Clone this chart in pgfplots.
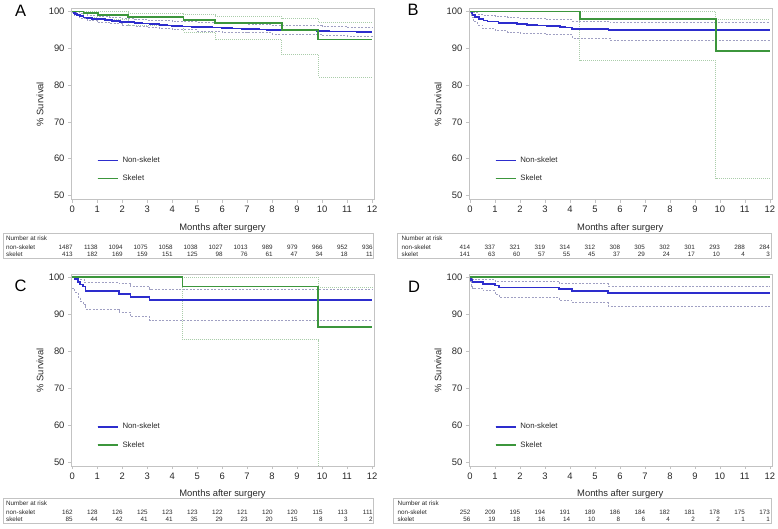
\documentclass[border=0pt]{standalone}
\usepackage{pgfplots}
\usepackage{pgfplotstable}
\pgfplotsset{compat=1.18}
\usepackage{fontspec}
\setmainfont{Liberation Sans}

\definecolor{kmblue}{RGB}{45,45,205}
\definecolor{kmgreen}{RGB}{60,150,60}
\definecolor{ciblue}{RGB}{160,160,195}
\definecolor{cigreen}{RGB}{170,205,170}
\definecolor{framec}{RGB}{195,195,195}
\definecolor{txt}{RGB}{40,40,40}

\newcommand{\tickfont}{\fontsize{9.4}{11}\selectfont}
\newcommand{\legfont}{\fontsize{7.8}{9}\selectfont}
\newcommand{\riskfont}{\fontsize{6.3}{7}\selectfont}

\pgfplotstableread{
m non sk
0 1487 413
1 1138 182
2 1094 169
3 1075 159
4 1058 151
5 1038 125
6 1027 98
7 1013 76
8 989 61
9 979 47
10 966 34
11 952 18
12 936 11
}\riskA
\pgfplotstableread{
m non sk
0 414 141
1 337 63
2 321 60
3 319 57
4 314 55
5 312 45
6 308 37
7 305 29
8 302 24
9 301 17
10 293 10
11 288 4
12 284 3
}\riskB
\pgfplotstableread{
m non sk
0 162 85
1 128 44
2 126 42
3 125 41
4 123 41
5 123 35
6 122 29
7 121 23
8 120 20
9 120 15
10 115 8
11 113 3
12 111 2
}\riskC
\pgfplotstableread{
m non sk
0 252 56
1 209 19
2 195 18
3 194 16
4 191 14
5 189 10
6 186 8
7 184 6
8 182 4
9 181 2
10 178 2
11 175 1
12 173 1
}\riskD

\pgfplotsset{
  km/.style={
    scale only axis, width=303pt, xmin=-0.05, xmax=12.08, ymin=48.9, ymax=100.75,
    xtick={0,...,12}, ytick={50,60,...,100},
    axis line style={draw=framec}, tick style={draw=framec, thin},
    tick align=outside, major tick length=3pt,
    xtick pos=left, ytick pos=left,
    /pgf/number format/assume math mode=true,
    ticklabel style={font=\tickfont, text=txt},
    xlabel={Months after surgery}, ylabel={\% Survival},
    label style={font=\tickfont, text=txt},
    xlabel style={at={(axis description cs:0.5,-0.148)}, anchor=center},
    ylabel style={at={(axis description cs:-0.102,0.5)}, anchor=center},
    legend style={at={(axis description cs:0.075,0.245)}, anchor=north west, draw=none, fill=none,
      font=\legfont, text=txt, row sep=7pt, column sep=2pt},
    legend cell align=left,
    legend image code/.code={\draw[#1] (0pt,0pt) -- (12pt,0pt); \path (0pt,0pt) -- (20pt,0pt);},
  },
  blueci/.style={const plot, ciblue, dash pattern=on 2pt off 1.5pt, line width=0.8pt, forget plot},
  greenci/.style={const plot, cigreen, dash pattern=on 1pt off 1pt, line width=0.9pt, forget plot},
  bluekm/.style={const plot, kmblue, line width=1.6pt},
  greenkm/.style={const plot, kmgreen, line width=1.6pt},
  risk/.style={scale only axis, height=25.5pt, ymin=0, ymax=1, xtick=\empty, ytick=\empty,
    axis line style={draw=framec}, clip=false},
  risknum/.style={only marks, mark=none, nodes near coords, point meta=explicit symbolic,
    every node near coord/.append style={anchor=east, inner sep=0pt, xshift=0.5pt, font=\riskfont, text=txt}},
}

\begin{document}
\begin{tikzpicture}
\useasboundingbox (0pt,0pt) rectangle (778pt,-529pt);

% ---------------- Panel A ----------------
\node[font=\fontsize{16.5}{18}\selectfont] at (20.7pt,-10.5pt) {A};
\begin{axis}[km, height=190.8pt, at={(71pt,-199.5pt)}, anchor=south west]
\addplot[blueci] coordinates {(0,100) (0.1,99.8) (0.3,99.4) (0.6,99.0) (1.0,98.7) (1.5,98.4) (2.0,98.1) (2.5,97.9) (3.0,97.7) (3.5,97.5) (4.0,97.2) (5.0,97.0) (6.0,96.8) (7.0,96.5) (8.0,96.2) (9.0,96.1) (10.0,96.0) (11.0,95.8) (12,95.7)};
\addplot[blueci] coordinates {(0,99.7) (0.1,98.8) (0.3,98.2) (0.6,97.5) (1.0,97.1) (1.5,96.7) (2.0,96.2) (2.5,96.0) (3.0,95.6) (3.5,95.3) (4.0,95.0) (5.0,94.7) (6.0,94.4) (7.0,94.2) (8.0,93.9) (9.0,93.7) (10.0,93.5) (11.0,93.3) (12,93.2)};
\addplot[greenci] coordinates {(0,100) (1.03,99.9) (2.23,99.5) (4.45,99.1) (5.72,98.7) (8.39,98.1) (9.85,96.9) (12,96.9)};
\addplot[greenci] coordinates {(0,100) (0.45,98.3) (1.03,97.7) (2.23,96.2) (4.45,94.4) (5.72,92.4) (8.39,88.2) (9.85,82.2) (12,82.2)};
\addplot[bluekm] coordinates {(0,100) (0.05,99.6) (0.1,99.3) (0.2,99.0) (0.3,98.7) (0.45,98.4) (0.6,98.2) (0.8,98.0) (1.0,97.9) (1.3,97.6) (1.6,97.4) (1.9,97.2) (2.2,97.1) (2.5,96.9) (2.8,96.7) (3.1,96.6) (3.5,96.3) (3.8,96.2) (4.0,96.0) (4.4,95.9) (4.8,95.8) (5.2,95.7) (5.6,95.6) (6.0,95.5) (6.4,95.4) (6.8,95.3) (7.1,95.2) (7.5,95.1) (7.8,95.0) (8.3,94.9) (9.0,94.8) (9.8,94.7) (10.3,94.6) (10.9,94.5) (11.4,94.4) (12,94.4)};
\addlegendentry{Non-skelet}
\addplot[greenkm] coordinates {(0,100) (0.45,99.5) (1.03,99.1) (2.23,98.5) (4.45,97.7) (5.72,96.8) (8.39,95.0) (9.85,92.4) (12,92.4)};
\addlegendentry{Skelet}
\end{axis}
\begin{axis}[risk, width=370pt, xmin=-2.77, xmax=12.03, at={(3pt,-258.5pt)}, anchor=south west]
\node[anchor=west, font=\riskfont, text=txt, inner sep=0pt] at (rel axis cs:0.008,0.80) {Number at risk};
\node[anchor=west, font=\riskfont, text=txt, inner sep=0pt] at (rel axis cs:0.008,0.45) {non-skelet};
\node[anchor=west, font=\riskfont, text=txt, inner sep=0pt] at (rel axis cs:0.008,0.18) {skelet};
\addplot[risknum] table[x=m, y expr=0.45, meta=non] {\riskA};
\addplot[risknum] table[x=m, y expr=0.18, meta=sk] {\riskA};
\end{axis}

% ---------------- Panel B ----------------
\node[font=\fontsize{16.5}{18}\selectfont] at (413pt,-9.8pt) {B};
\begin{axis}[km, height=190.8pt, at={(468.8pt,-199.5pt)}, anchor=south west]
\addplot[blueci] coordinates {(0,100) (0.1,99.8) (0.3,99.3) (0.5,99.0) (1.0,98.7) (1.5,98.4) (2.0,98.2) (3.0,97.8) (4.1,97.3) (5.6,96.9) (12,96.9)};
\addplot[blueci] coordinates {(0,99.8) (0.05,98.5) (0.15,97.2) (0.3,96.3) (0.5,95.4) (1.0,94.8) (1.5,94.4) (2.0,94.1) (3.0,93.7) (4.1,92.8) (5.6,92.2) (12,92.2)};
\addplot[greenci] coordinates {(0,100) (9.84,97.8) (12,97.8)};
\addplot[greenci] coordinates {(0,100) (4.39,86.8) (9.84,54.6) (12,54.6)};
\addplot[bluekm] coordinates {(0,100) (0.05,99.5) (0.1,99.0) (0.2,98.5) (0.35,98.0) (0.54,97.5) (0.7,97.3) (1.14,96.9) (1.5,96.8) (1.87,96.6) (2.27,96.4) (2.7,96.2) (3.08,96.0) (3.6,95.8) (3.8,95.6) (4.08,95.3) (5.55,95.0) (12,95.0)};
\addlegendentry{Non-skelet}
\addplot[greenkm] coordinates {(0,100) (4.39,98.0) (9.84,89.2) (12,89.2)};
\addlegendentry{Skelet}
\end{axis}
\begin{axis}[risk, width=374pt, xmin=-2.92, xmax=12.06, at={(397pt,-258.5pt)}, anchor=south west]
\node[anchor=west, font=\riskfont, text=txt, inner sep=0pt] at (rel axis cs:0.012,0.80) {Number at risk};
\node[anchor=west, font=\riskfont, text=txt, inner sep=0pt] at (rel axis cs:0.012,0.45) {non-skelet};
\node[anchor=west, font=\riskfont, text=txt, inner sep=0pt] at (rel axis cs:0.012,0.18) {skelet};
\addplot[risknum] table[x=m, y expr=0.45, meta=non] {\riskB};
\addplot[risknum] table[x=m, y expr=0.18, meta=sk] {\riskB};
\end{axis}

% ---------------- Panel C ----------------
\node[font=\fontsize{16.5}{18}\selectfont] at (20.5pt,-285.5pt) {C};
\begin{axis}[km, height=191.8pt, at={(71pt,-466.1pt)}, anchor=south west]
\addplot[blueci] coordinates {(0,100) (0.25,99.3) (0.5,98.5) (1.87,98.2) (2.33,97.4) (3.1,96.8) (12,96.8)};
\addplot[blueci] coordinates {(0,97.0) (0.09,95.8) (0.23,94.5) (0.32,93.5) (0.43,92.5) (0.53,91.2) (1.87,90.5) (2.33,89.3) (3.1,88.2) (12,88.2)};
\addplot[greenci] coordinates {(0,100) (9.85,97.2) (12,97.2)};
\addplot[greenci] coordinates {(0,100) (4.41,83.1) (9.85,30) (12,30)};
\addplot[bluekm] coordinates {(0,100) (0.09,99.4) (0.23,98.7) (0.32,98.0) (0.43,97.4) (0.53,96.2) (1.87,95.4) (2.33,94.6) (3.1,93.8) (12,93.8)};
\addlegendentry{Non-skelet}
\addplot[greenkm] coordinates {(0,100) (4.41,97.45) (9.85,86.5) (12,86.5)};
\addlegendentry{Skelet}
\end{axis}
\begin{axis}[risk, width=370pt, xmin=-2.77, xmax=12.03, at={(3pt,-523.5pt)}, anchor=south west]
\node[anchor=west, font=\riskfont, text=txt, inner sep=0pt] at (rel axis cs:0.008,0.80) {Number at risk};
\node[anchor=west, font=\riskfont, text=txt, inner sep=0pt] at (rel axis cs:0.008,0.45) {non-skelet};
\node[anchor=west, font=\riskfont, text=txt, inner sep=0pt] at (rel axis cs:0.008,0.18) {skelet};
\addplot[risknum] table[x=m, y expr=0.45, meta=non] {\riskC};
\addplot[risknum] table[x=m, y expr=0.18, meta=sk] {\riskC};
\end{axis}

% ---------------- Panel D ----------------
\node[font=\fontsize{16.5}{18}\selectfont] at (414pt,-287pt) {D};
\begin{axis}[km, height=191.8pt, at={(468.8pt,-466.1pt)}, anchor=south west]
\addplot[blueci] coordinates {(0,100) (0.1,99.4) (1.0,98.8) (3.57,98.2) (5.53,97.6) (12,97.6)};
\addplot[blueci] coordinates {(0,98.7) (0.04,97.6) (0.1,97.0) (0.53,96.3) (1.0,95.4) (1.17,94.5) (3.57,93.8) (4.07,93.1) (5.53,92.2) (12,92.2)};
\addplot[bluekm] coordinates {(0,100) (0.04,99.2) (0.1,98.7) (0.53,98.1) (1.0,97.7) (1.17,97.2) (3.57,96.8) (4.07,96.2) (5.53,95.7) (12,95.7)};
\addlegendentry{Non-skelet}
\addplot[greenkm] coordinates {(0,100) (12,100)};
\addlegendentry{Skelet}
\end{axis}
\begin{axis}[risk, width=378pt, xmin=-3.085, xmax=12.06, at={(393pt,-523.5pt)}, anchor=south west]
\node[anchor=west, font=\riskfont, text=txt, inner sep=0pt] at (rel axis cs:0.012,0.80) {Number at risk};
\node[anchor=west, font=\riskfont, text=txt, inner sep=0pt] at (rel axis cs:0.012,0.45) {non-skelet};
\node[anchor=west, font=\riskfont, text=txt, inner sep=0pt] at (rel axis cs:0.012,0.18) {skelet};
\addplot[risknum] table[x=m, y expr=0.45, meta=non] {\riskD};
\addplot[risknum] table[x=m, y expr=0.18, meta=sk] {\riskD};
\end{axis}
\end{tikzpicture}
\end{document}
